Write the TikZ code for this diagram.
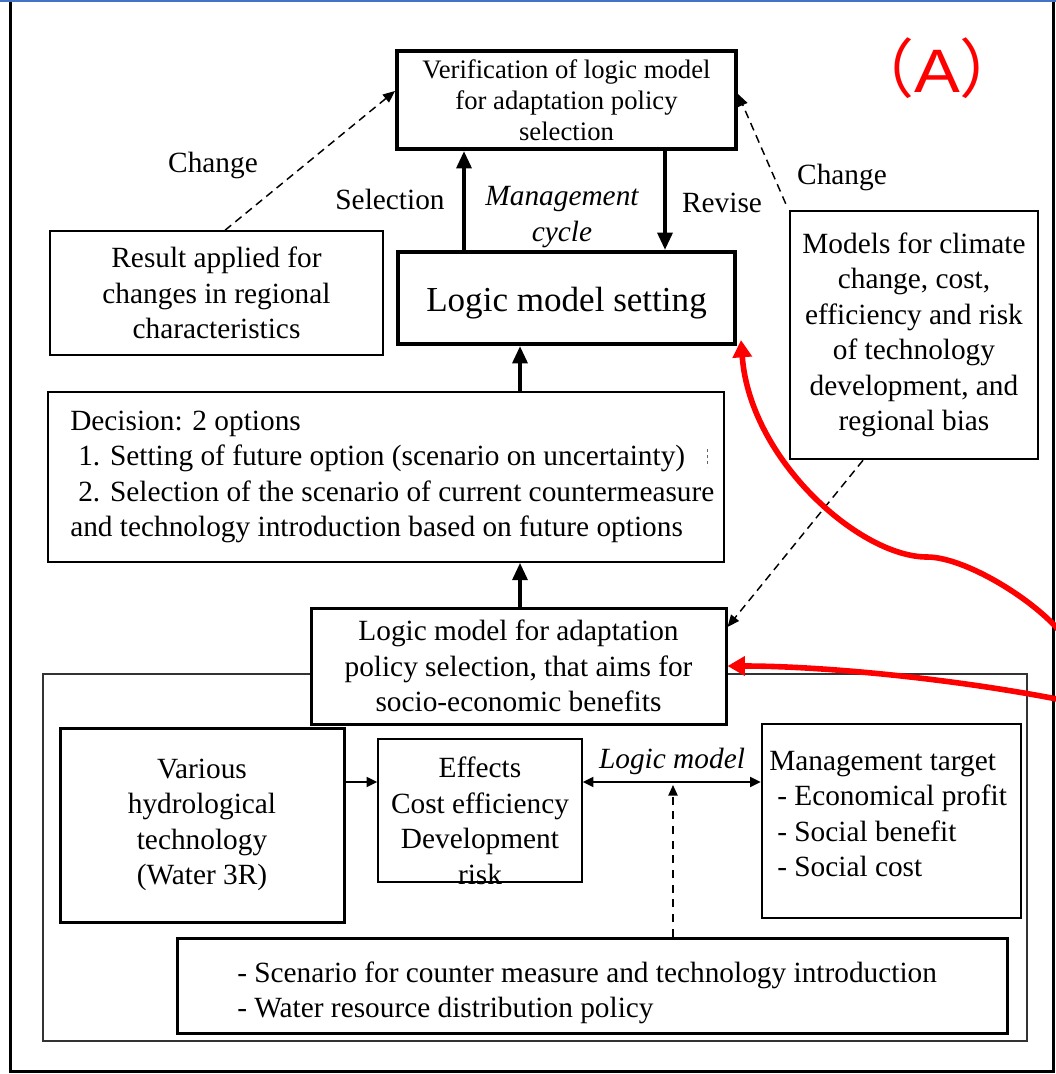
\documentclass[tikz,border=0pt]{standalone}
\usepackage{fontspec}
\setmainfont{Liberation Serif}
\newfontfamily\cjkfont{Noto Sans CJK JP}
\newfontfamily\tagfont{Liberation Sans}
\usetikzlibrary{arrows.meta,calc}

\newcommand\pxu{0.75pt}

\begin{document}
\begin{tikzpicture}[x=0.75pt,y=-0.75pt,
  basefont/.style={font=\fontsize{22}{26.6}\selectfont},
  box/.style={draw, fill=white, inner sep=0pt, align=center, basefont},
  heavybox/.style={box, line width=3pt},
  midbox/.style={box, line width=2.25pt},
  lightbox/.style={box, line width=1.9pt},
  thinbox/.style={box, line width=1.1pt},
  txt/.style={inner sep=0pt, basefont},
  bigarrow/.style={line width=3pt, -{Triangle[length=13pt,width=11pt]}},
  dasharrow/.style={line width=1.1pt, dash pattern=on 6pt off 4pt, -{Triangle[length=9pt,width=7.5pt]}},
  smallarrow/.style={line width=1.3pt, -{Triangle[length=8pt,width=7.5pt]}},
  redarrow/.style={red, line width=4.2pt, -{Triangle[length=13pt,width=14pt]}}
]
\useasboundingbox (0,0) rectangle (1056,1074);

% outer frame
\draw[line width=1.2pt, draw={rgb,255:red,68;green,114;blue,196}] (0,1) -- (1056,1);
\draw[line width=2.25pt] (10,2) -- (10,1071) -- (1053,1071) -- (1053,2);

% inner frame around the logic model
\draw[line width=0.8pt, draw=black!80] (43,674) rectangle (1027,1041);

% boxes
\node[heavybox, minimum width=339*\pxu, minimum height=98*\pxu,
      font=\fontsize{20}{23.3}\selectfont] (ver) at (566.5,100)
  {Verification of logic model\\for adaptation policy\\selection};
\node[heavybox, minimum width=337*\pxu, minimum height=92*\pxu,
      font=\fontsize{26.3}{30}\selectfont] (setting) at (566.5,298)
  {\raisebox{-3.5pt}[\height][\depth]{Logic model setting}};
\node[thinbox, minimum width=333*\pxu, minimum height=124*\pxu] (result) at (216.5,293)
  {Result applied for\\changes in regional\\characteristics};
\node[lightbox, minimum width=248*\pxu, minimum height=248*\pxu] (models) at (914,335)
  {Models for climate\\change, cost,\\efficiency and risk\\of technology\\development, and\\regional bias};
\node[thinbox, minimum width=676*\pxu, minimum height=170*\pxu] (decision) at (386,477) {};
\node[txt, anchor=west, align=left] (decisiontext) at (70,477)
  {Decision: 2 options\\
   \hspace*{6pt}1. Setting of future option (scenario on uncertainty)\\
   \hspace*{6pt}2. Selection of the scenario of current countermeasure\\
   and technology introduction based on future options};
\draw[line width=0.5pt, draw=black!60, dash pattern=on 2.5pt off 2pt] (707,449) -- (707,467);
\node[midbox, minimum width=415*\pxu, minimum height=116*\pxu] (logic) at (518.5,666)
  {Logic model for adaptation\\policy selection, that aims for\\socio-economic benefits};
\node[midbox, minimum width=284*\pxu, minimum height=194*\pxu] (various) at (202,825)
  {Various\\hydrological\\technology\\(Water 3R)};
\node[thinbox, minimum width=204*\pxu, minimum height=143*\pxu] (effects) at (480,810.5) {};
\node[txt, align=center] (effectstext) at (480,821)
  {Effects\\Cost efficiency\\Development\\risk};
\node[lightbox, minimum width=259*\pxu, minimum height=194*\pxu] (mgmt) at (891.5,821) {};
\node[txt, anchor=west, align=left] (mgmttext) at (769,814)
  {Management target\\
   \hspace*{6pt}- Economical profit\\
   \hspace*{6pt}- Social benefit\\
   \hspace*{6pt}- Social cost};
\node[midbox, minimum width=830*\pxu, minimum height=95*\pxu] (bottom) at (592,985.5) {};
\node[txt, anchor=west, align=left] (bottomtext) at (237,993)
  {- Scenario for counter measure and technology introduction\\
   - Water resource distribution policy};

% labels
\node[txt] (sellabel) at (390,199) {Selection};
\node[txt, align=center, font=\fontsize{22}{26.6}\selectfont\itshape] (cycle) at (562,217)
  {Management\\cycle};
\node[txt] (revlabel) at (722,203) {Revise};
\node[txt] (chgleft) at (213,165) {Change};
\node[txt] (chgright) at (842,177) {Change};
\node[txt, font=\fontsize{22}{26.6}\selectfont\itshape] (lmlabel) at (672,761) {Logic model};
\node[inner sep=0pt, text=red] (tag) at (937,68)
  {{\cjkfont\fontsize{48}{48}\selectfont （}%
   {\tagfont\fontsize{46}{46}\selectfont\scalebox{1.12}[1]{A}}%
   {\cjkfont\fontsize{48}{48}\selectfont ）}};

% helper coordinates
\coordinate (selx) at (464,0);
\coordinate (revx) at (665,0);
\coordinate (midx) at (520,0);
\coordinate (chgL) at (0,91);
\coordinate (chgR) at (0,94);
\coordinate (resx) at (225,0);
\coordinate (modx) at (863,0);
\coordinate (logy) at (0,627);
\coordinate (arrowy) at (0,782);
\coordinate (lmtip) at (673,785);

% management cycle
\draw[bigarrow] (setting.north -| selx) -- (ver.south -| selx);
\draw[bigarrow] (ver.south -| revx) -- (setting.north -| revx);
\draw[bigarrow] (decision.north -| midx) -- (setting.south -| midx);
\draw[bigarrow] (logic.north -| midx) -- (decision.south -| midx);

% change links
\draw[dasharrow] (result.north -| resx) -- (ver.west |- chgL);
\draw[dasharrow] ($(models.north west)+(-3,-6)$) -- (ver.east |- chgR);
\draw[dasharrow] (models.south -| modx) -- (logic.east |- logy);

% logic model links
\draw[smallarrow] (various.east |- arrowy) -- (effects.west |- arrowy);
\draw[line width=1.5pt, {Triangle[length=8pt,width=7.5pt]}-{Triangle[length=8pt,width=7.5pt]}]
  (effects.east |- arrowy) -- (mgmt.west |- arrowy);
\draw[line width=1.1pt, dash pattern=on 6pt off 5pt, -{Triangle[length=8pt,width=7pt]}]
  (bottom.north -| lmtip) -- (lmtip);

% red feedback arrows
\coordinate (redA) at (1062,634);
\coordinate (redB) at (1062,700);
\draw[redarrow] (redA) .. controls (1035,600) and (965,557) .. (927,557)
  .. controls (860,557) and (750,460) .. ($(setting.south east)+(4,-6)$);
\draw[redarrow] (redB) .. controls (950,678) and (820,666) .. (logic.east);
\end{tikzpicture}
\end{document}
